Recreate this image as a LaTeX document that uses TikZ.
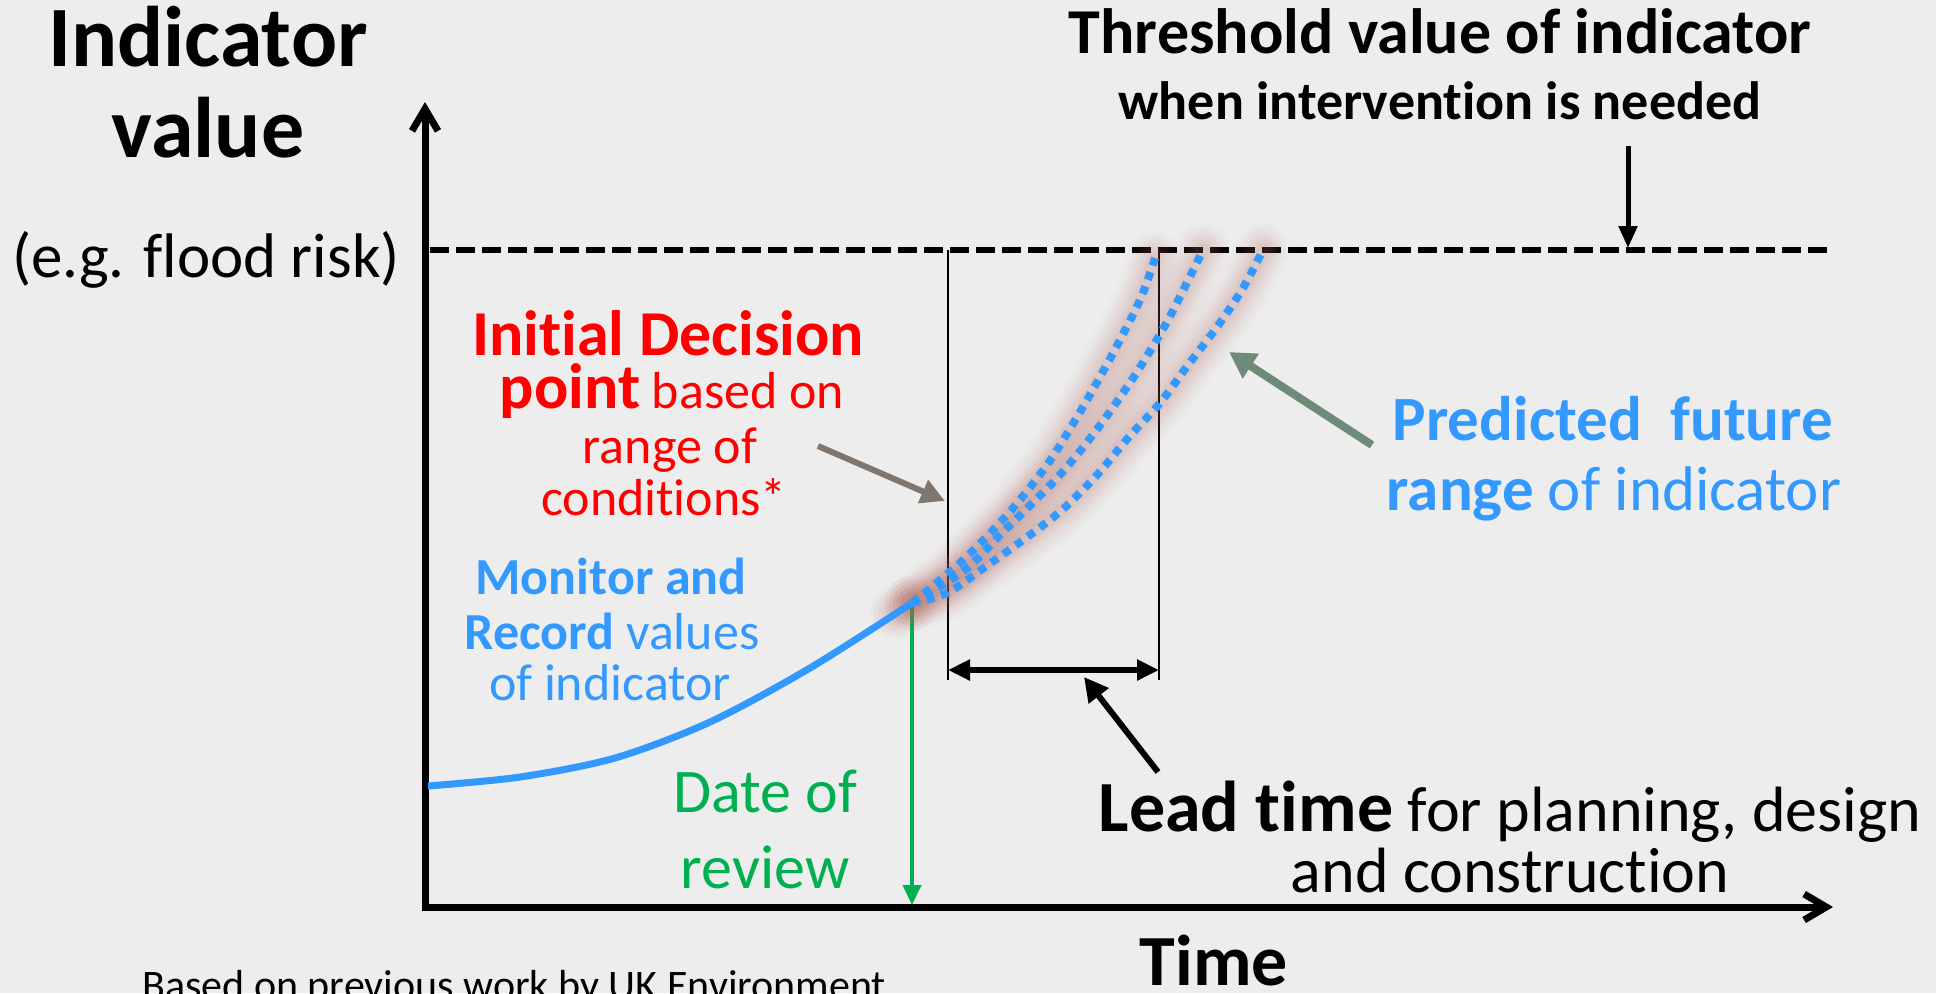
\documentclass[tikz,border=0pt]{standalone}
\usepackage{fontspec}
\setmainfont{Carlito}[Ligatures=NoCommon]
\usetikzlibrary{arrows.meta}
\definecolor{bg}{HTML}{EDEDED}
\definecolor{myblue}{HTML}{3399FF}
\definecolor{myred}{HTML}{FF0000}
\definecolor{mygreen}{HTML}{00B050}
\definecolor{grayarr}{HTML}{7F776F}
\definecolor{greenarr}{HTML}{6E8A78}
\definecolor{glowc}{HTML}{B4665C}
\newcommand\curveA{plot[smooth] coordinates {(912,603) (960,563) (1007,515) (1047,465) (1080,412) (1112,355) (1140,300) (1155,258)}}
\newcommand\curveB{plot[smooth] coordinates {(912,603) (965,570) (1002,533) (1058,477) (1098,428) (1135,375) (1168,320) (1203,250)}}
\newcommand\curveC{plot[smooth] coordinates {(912,603) (947,593) (985,567) (1023,540) (1062,510) (1097,475) (1128,438) (1160,403) (1188,365) (1217,327) (1243,288) (1263,250)}}
\newcommand\fsz[1]{\fontsize{#1pt}{#1pt}\selectfont}
\begin{document}
\begin{tikzpicture}[x=0.5pt,y=-0.5pt,
  lbl/.style={inner sep=0pt, anchor=base},
  axisline/.style={line width=3.5pt, line join=miter,
    {Straight Barb[length=11pt,width=13pt]}-{Straight Barb[length=11pt,width=13pt]}},
  thresh/.style={line width=3pt, dash pattern=on 9.5pt off 3.5pt},
  thinline/.style={line width=1pt},
  dotline/.style={myblue, line width=4pt, dash pattern=on 4pt off 3.5pt},
  pointer/.style={-{Triangle[length=12pt,width=12pt]}},
]
\fill[bg] (0,0) rectangle (1936,993);
\useasboundingbox (0,0) rectangle (1936,993);
\clip (0,0) rectangle (1936,993);

% coordinates
\coordinate (O) at (425,907);
\coordinate (ytop) at (425,102);
\coordinate (xend) at (1833,907);
\coordinate (thL) at (430,250);
\coordinate (thR) at (1828,250);
\coordinate (v1t) at (948,250);
\coordinate (v1b) at (948,680);
\coordinate (v2t) at (1159,250);
\coordinate (v2b) at (1159,680);
\coordinate (la) at (948,670);
\coordinate (lb) at (1159,670);
\coordinate (J) at (912,603);
\coordinate (gb) at (912,905);
\coordinate (dtop) at (1628,146);
\coordinate (dbot) at (1628,248);
\coordinate (ga1) at (818,446);
\coordinate (ga2) at (945,501);
\coordinate (gg1) at (1372,445);
\coordinate (gg2) at (1229,352);
\coordinate (lp1) at (1158,772);
\coordinate (lp2) at (1084,677);
\coordinate (gs) at (897,612);

% axes and guide lines
\draw[axisline] (ytop) -- (O) -- (xend);
\draw[thresh] (thL) -- (thR);
\draw[thinline] (v1t) -- (v1b);
\draw[thinline] (v2t) -- (v2b);
\draw[line width=3pt, {Triangle[length=11pt,width=10pt]}-{Triangle[length=11pt,width=10pt]}] (la) -- (lb);
\draw[mygreen, line width=2pt, -{Triangle[length=10pt,width=9pt]}] (J) -- (gb);

% glow
\foreach \c in {\curveA,\curveB,\curveC}{
  \foreach \w/\o in {27/0.025,23/0.035,19/0.045,15/0.055,11/0.065,7/0.075}{
    \draw[glowc, line width=\w pt, opacity=\o, line cap=round] \c;
  }
}
\foreach \w/\o in {27/0.04,23/0.05,19/0.06,15/0.07,11/0.08}{
  \draw[glowc, line width=\w pt, opacity=\o, line cap=round] (gs) -- (J);
}

% monitored curve
\draw[myblue, line width=3.5pt] plot[smooth] coordinates {(428,786) (520,777) (615,758) (710,722) (810,668) (912,603)};
% predicted range
\draw[dotline] \curveA;
\draw[dotline] \curveB;
\draw[dotline] \curveC;

% arrows
\draw[line width=2.5pt, -{Triangle[length=11pt,width=9pt]}] (dtop) -- (dbot);
\draw[grayarr, line width=3pt, pointer] (ga1) -- (ga2);
\draw[greenarr, line width=4pt, -{Triangle[length=13pt,width=14pt]}] (gg1) -- (gg2);
\draw[line width=3pt, -{Triangle[length=12pt,width=12pt]}] (lp1) -- (lp2);

% texts
\node[lbl, font=\fsz{43}\bfseries] (ind1) at (208,66) {Indicator};
\node[lbl, font=\fsz{43}\bfseries] (ind2) at (208,157) {value};
\node[lbl, font=\fsz{31.5}] (ind3) at (206,277) {(e.g. flood risk)};

\node[lbl, font=\fsz{32}\bfseries] (th1) at (1440,53) {Threshold value of indicator};
\node[lbl, font=\fsz{27}\bfseries] (th2) at (1440,119) {when intervention is needed};

\node[lbl, myred] (r1) at (668,355) {\fsz{32}\bfseries Initial Decision};
\node[lbl, myred] (r2) at (672,408) {\fsz{32}\bfseries point\fsz{26}\mdseries{} based on};
\node[lbl, myred] (r3) at (670,463) {\fsz{26}range of};
\node[lbl, myred] (r4) at (664,515) {\fsz{26}conditions*};

\node[lbl, myblue] (b1) at (611,594) {\fsz{26}\bfseries Monitor and};
\node[lbl, myblue] (b2) at (612,649) {\fsz{26}\bfseries Record\mdseries{} values};
\node[lbl, myblue] (b3) at (610,700) {\fsz{26}of indicator};

\node[lbl, myblue] (p1) at (1613,440) {\fsz{31.5}\bfseries Predicted\ \ future};
\node[lbl, myblue] (p2) at (1614,510) {\fsz{31.5}\bfseries range\mdseries{} of indicator};

\node[lbl, mygreen] (d1) at (765,812) {\fsz{31}Date of};
\node[lbl, mygreen] (d2) at (765,888) {\fsz{31}review};

\node[lbl] (l1) at (1510,831) {\fsz{36}\bfseries Lead time\fsz{32}\mdseries{} for planning, design};
\node[lbl] (l2) at (1510,892) {\fsz{32}and construction};

\node[lbl, font=\fsz{36}\bfseries] (tm) at (1214,985) {Time};
\node[lbl, anchor=base west, font=\fsz{21}] (src) at (142,999) {Based on previous work by UK Environment};
\end{tikzpicture}
\end{document}
